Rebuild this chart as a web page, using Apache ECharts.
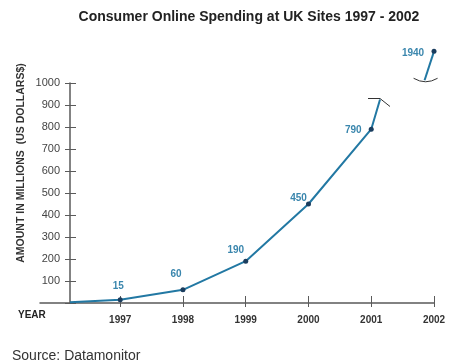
<!DOCTYPE html>
<html>
<head>
<meta charset="utf-8">
<script src="https://cdn.jsdelivr.net/npm/echarts@6/dist/echarts.min.js"></script>
<style>
  html, body { margin: 0; padding: 0; background: #fff; }
  #chart { width: 455px; height: 360px; }
</style>
</head>
<body>
<div id="chart"></div>
<script>
// 数据
const years = [1997, 1998, 1999, 2000, 2001, 2002];
const spending = [15, 60, 190, 450, 790, 1940];
// line ends (start at the y axis, both sides of the break)
const lineStart = [1996.2, 3];
const breakLow = [2001.14, 925];
const breakHigh = [2001.85, 1810];

// label offsets (layout only)
const labelShift = [[-2, -13], [-7, -16], [-10, -11], [-10, -6], [-18, 1], [-21, 2]];

const lineColor = '#2278a3';
const dotColor = '#1b3d5e';
const labelColor = '#3a86ad';
const axisColor = '#5a5a5a';
const font = 'Liberation Sans, Arial';

const xMin = 1995.722, xMax = 2002;

function point(i) {
  return {
    value: [years[i], spending[i]],
    symbol: 'circle',
    label: {
      show: true,
      position: 'inside',
      offset: labelShift[i],
      formatter: String(spending[i]),
      color: labelColor,
      fontWeight: 'bold',
      fontSize: 10,
      fontFamily: font
    }
  };
}

const lowerData = [{ value: lineStart, symbol: 'none' }];
for (let i = 0; i < 5; i++) lowerData.push(point(i));
lowerData.push({ value: breakLow, symbol: 'none' });

const upperData = [{ value: breakHigh, symbol: 'none' }, point(5)];

let chart = echarts.init(document.getElementById('chart'));

const hideAll = { axisLine: { show: false }, axisTick: { show: false }, axisLabel: { show: false }, splitLine: { show: false } };

chart.setOption({
  animation: false,
  title: {
    text: 'Consumer Online Spending at UK Sites 1997 - 2002',
    left: 244, top: 5, textAlign: 'center',
    textStyle: { fontSize: 14, fontWeight: 'bold', color: '#222', fontFamily: font }
  },
  grid: [
    { left: 40, right: 21, top: 83, bottom: 57 },
    { left: 40, right: 21, top: 38, bottom: 277.5 }
  ],
  xAxis: [
    {
      type: 'value', gridIndex: 0, min: xMin, max: xMax, position: 'bottom',
      axisLine: { show: true, onZero: false, lineStyle: { color: axisColor, width: 1.5 } },
      axisTick: { show: true, customValues: years, length: 4, lineStyle: { color: axisColor, width: 1 } },
      axisLabel: {
        customValues: years, margin: 12, color: '#333', fontSize: 10, fontWeight: 'bold',
        fontFamily: font, formatter: v => String(v)
      },
      splitLine: { show: false }
    },
    {
      // inner half of the crossing ticks
      type: 'value', gridIndex: 0, min: xMin, max: xMax, position: 'bottom',
      axisLine: { show: false, onZero: false },
      axisTick: { show: true, inside: true, customValues: years, length: 7, lineStyle: { color: axisColor, width: 1 } },
      axisLabel: { show: false }, splitLine: { show: false }
    },
    Object.assign({ type: 'value', gridIndex: 1, min: xMin, max: xMax }, hideAll)
  ],
  yAxis: [
    {
      type: 'value', gridIndex: 0, min: 0, max: 1000, interval: 100, offset: -30, position: 'left',
      axisLine: { show: true, onZero: false, lineStyle: { color: axisColor, width: 1.5 } },
      axisTick: { show: true, length: 5, lineStyle: { color: axisColor, width: 1 } },
      axisLabel: {
        margin: 10, color: '#444', fontSize: 11, fontFamily: font,
        formatter: v => (v === 0 ? '' : String(v))
      },
      splitLine: { show: false }
    },
    {
      type: 'value', gridIndex: 0, min: 0, max: 1000, interval: 100, offset: -30, position: 'left',
      axisLine: { show: false, onZero: false },
      axisTick: { show: true, inside: true, length: 6, lineStyle: { color: axisColor, width: 1 } },
      axisLabel: { show: false }, splitLine: { show: false }
    },
    Object.assign({ type: 'value', gridIndex: 1, min: 1800, max: 2000 }, hideAll)
  ],
  series: [
    {
      type: 'line', xAxisIndex: 0, yAxisIndex: 0, data: lowerData,
      symbolSize: 5, showAllSymbol: true,
      lineStyle: { color: lineColor, width: 2 },
      itemStyle: { color: dotColor }
    },
    {
      type: 'line', xAxisIndex: 2, yAxisIndex: 2, data: upperData, clip: false,
      symbolSize: 5,
      lineStyle: { color: lineColor, width: 2 },
      itemStyle: { color: dotColor }
    }
  ]
});

// break marks on both sides of the axis break, plus the loose texts
const lo = chart.convertToPixel({ gridIndex: 0 }, breakLow);
const hi = chart.convertToPixel({ gridIndex: 1 }, breakHigh);
chart.setOption({
  graphic: [
    {
      type: 'text', left: 18, top: 310,
      style: { text: 'YEAR', fontSize: 10, fontWeight: 'bold', fill: '#222', fontFamily: font }
    },
    {
      type: 'text', left: 12, top: 349,
      style: { text: 'Source: Datamonitor', fontSize: 14, fill: '#333', fontFamily: font }
    },
    {
      type: 'text', x: 21, y: 163, rotation: Math.PI / 2,
      style: {
        text: 'AMOUNT IN MILLIONS  (US DOLLARS$)', fontSize: 10.5, fontWeight: 'bold',
        fill: '#333', fontFamily: font, align: 'center', verticalAlign: 'middle'
      }
    },
    {
      type: 'polyline', silent: true,
      shape: { points: [[lo[0] - 12, lo[1] - 1], [lo[0], lo[1] - 1], [lo[0] + 10, lo[1] + 7]] },
      style: { stroke: '#333', lineWidth: 1, fill: null }
    },
    {
      type: 'bezierCurve', silent: true,
      shape: { x1: hi[0] - 11, y1: hi[1] - 2, x2: hi[0] + 13, y2: hi[1] - 2, cpx1: hi[0] + 1, cpy1: hi[1] + 5 },
      style: { stroke: '#333', lineWidth: 1, fill: null }
    }
  ]
});
</script>
</body>
</html>
